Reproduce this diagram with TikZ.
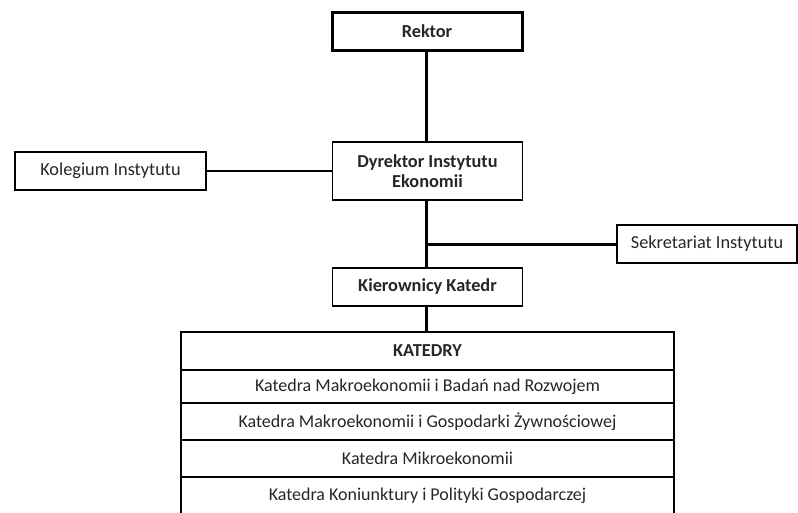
\documentclass[tikz,border=0pt]{standalone}
\usepackage{fontspec}
\setmainfont{Carlito}
\usetikzlibrary{positioning}
\begin{document}
\begin{tikzpicture}[x=1pt,y=-1pt,
    boite/.style={draw, line width=1.4pt, outer sep=0pt, inner sep=0pt,
      minimum width=190pt, minimum height=38pt, align=center, text=black!85,
      font=\fontsize{18.3}{20}\selectfont},
    gras/.style={font=\fontsize{18.3}{20}\selectfont\bfseries},
    ligne/.style={draw, line width=1.4pt, outer sep=0pt, inner sep=0pt, text=black!85,
      minimum width=493pt, font=\fontsize{18}{20}\selectfont},
    trait/.style={line width=3pt}]
    \useasboundingbox (0,0) rectangle (798,513);
    \clip (0,0) rectangle (798,513);

    % Direction
    \node[boite, gras, line width=3pt] (rektor) at (427,31.5) {Rektor};
    \node[boite, gras, minimum height=58pt] (dyrektor) at (427.5,171) {Dyrektor Instytutu\\Ekonomii};
    \node[boite, minimum width=191pt] (kolegium) at (110.5,171) {Kolegium Instytutu};
    \node[boite, minimum width=180pt] (sekretariat) at (707,244) {Sekretariat Instytutu};
    \node[boite, gras] (kierownicy) at (427.5,287) {Kierownicy Katedr};
    \coordinate (branche) at (426,245);

    % Katedry
    \node[ligne, gras, minimum height=38pt] (katedry) at (427.5,351) {KATEDRY};
    \node[ligne, minimum height=33pt, below=0pt of katedry] (k1) {Katedra Makroekonomii i Badań nad Rozwojem};
    \node[ligne, minimum height=37pt, below=0pt of k1] (k2) {Katedra Makroekonomii i Gospodarki Żywnościowej};
    \node[ligne, minimum height=37pt, below=0pt of k2] (k3) {Katedra Mikroekonomii};
    \node[ligne, minimum height=37pt, below=0pt of k3] (k4) {Katedra Koniunktury i Polityki Gospodarczej};

    % Liaisons
    \draw[trait] (rektor.south -| branche) -- (dyrektor.north -| branche);
    \draw[trait] (dyrektor.south -| branche) -- (kierownicy.north -| branche);
    \draw[trait] (branche) -- (sekretariat.west |- branche);
    \draw[trait] (kierownicy.south -| branche) -- (katedry.north -| branche);
    \draw[line width=1.4pt] (kolegium.east) -- (dyrektor.west |- kolegium.east);
\end{tikzpicture}
\end{document}
